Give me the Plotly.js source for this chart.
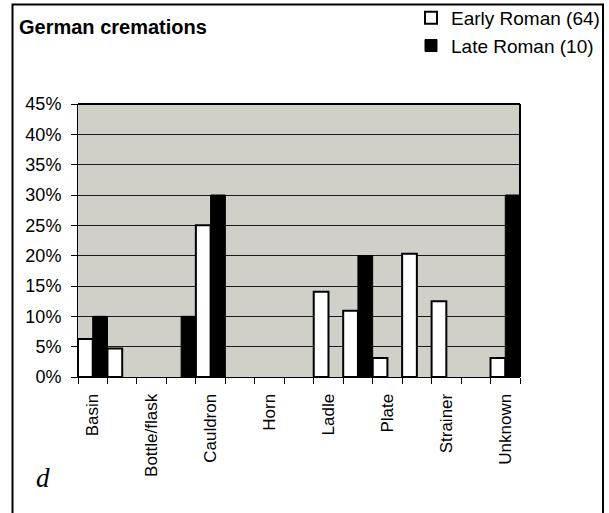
<!DOCTYPE html>
<html>
<head>
<meta charset="utf-8">
<script src="https://cdn.plot.ly/plotly-3.0.1.min.js"></script>
<style>
  html, body { margin: 0; padding: 0; background: #ffffff; }
  #chart { width: 609px; height: 513px; }
</style>
</head>
<body>
<div id="chart"></div>
<script>
// Category slots (labels shown on every other slot, as in the original)
const categories = ["Basin", "", "Bottle/flask", "", "Cauldron", "", "Horn", "", "Ladle", "", "Plate", "", "Strainer", "", "Unknown"];
// Percentages
const earlyRoman = [6.25, 4.69, 0, 0, 25, 0, 0, 0, 14.06, 10.94, 3.13, 20.31, 12.5, 0, 3.13];
const lateRoman  = [10, 0, 0, 10, 30, 0, 0, 0, 0, 20, 0, 0, 0, 0, 30];
const seriesNames = ["Early Roman (64)", "Late Roman (10)"];
const yTickValues = [0, 5, 10, 15, 20, 25, 30, 35, 40, 45];

const xPos = categories.map((c, i) => i + 1);
const labelPos = xPos.filter((p, i) => categories[i] !== "");
const labelText = categories.filter(c => c !== "");
const boundaries = [0.5].concat(xPos.map(p => p + 0.5));
const nz = arr => arr.map(v => (v === 0 ? null : v));

const FONT = "Liberation Sans, Arial, sans-serif";

const traces = [
  {
    type: "bar", name: seriesNames[0], x: xPos, y: nz(earlyRoman),
    marker: { color: "#ffffff", line: { color: "#000000", width: 2 } },
    hoverinfo: "skip"
  },
  {
    type: "bar", name: seriesNames[1], x: xPos, y: nz(lateRoman),
    marker: { color: "#000000", line: { color: "#000000", width: 1 } },
    hoverinfo: "skip"
  },
  {
    type: "scatter", x: labelPos, y: labelPos.map(() => null), xaxis: "x2",
    showlegend: false, hoverinfo: "skip"
  }
];

// Plot area geometry in pixels (for the outer frame)
const L = 78, R = 520, T = 104, B = 377;
const W = R - L, H = B - T;
const px = v => (v - L) / W;
const py = v => (B - v) / H;

const layout = {
  width: 609, height: 513,
  margin: { l: L, r: 609 - R, t: T, b: 513 - B, pad: 0, autoexpand: false },
  paper_bgcolor: "#ffffff",
  plot_bgcolor: "#d0d0c9",
  font: { family: FONT, size: 18, color: "#000000" },
  barmode: "group", bargap: 0, bargroupgap: 0,
  title: {
    text: "<b>German cremations</b>",
    font: { family: FONT, size: 20, color: "#000000" },
    xref: "container", yref: "container",
    x: 19 / 609, xanchor: "left",
    y: 1 - 27 / 513, yanchor: "middle"
  },
  showlegend: true,
  legend: {
    x: px(605), xanchor: "right", y: py(-1), yanchor: "top",
    bgcolor: "rgba(0,0,0,0)", borderwidth: 0,
    font: { family: FONT, size: 19, color: "#000000" },
    traceorder: "normal", tracegroupgap: 0
  },
  xaxis: {
    range: [0.5, 15.5], tickmode: "array", tickvals: boundaries,
    ticktext: boundaries.map(() => ""),
    ticks: "outside", ticklen: 6, tickwidth: 1, tickcolor: "#000000",
    showline: true, linecolor: "#000000", linewidth: 1,
    showgrid: false, zeroline: false, fixedrange: true
  },
  xaxis2: {
    overlaying: "x", side: "bottom", range: [0.5, 15.5],
    tickmode: "array", tickvals: labelPos, ticktext: labelText,
    tickangle: -90, ticks: "outside", ticklen: 9, tickcolor: "rgba(0,0,0,0)",
    showline: false, showgrid: false, zeroline: false,
    tickfont: { family: FONT, size: 17, color: "#000000" }, fixedrange: true
  },
  yaxis: {
    range: [0, 45], tickmode: "array", tickvals: yTickValues,
    ticktext: yTickValues.map(v => v + "%"),
    ticks: "outside", ticklen: 6, tickwidth: 1, tickcolor: "#000000",
    ticklabelstandoff: 6,
    showline: true, linecolor: "#000000", linewidth: 1,
    showgrid: true, gridcolor: "#1a1a1a", gridwidth: 1,
    zeroline: false, fixedrange: true,
    tickfont: { family: FONT, size: 18, color: "#000000" }
  },
  shapes: [
    // plot area top and right border
    { type: "line", xref: "paper", yref: "paper", x0: 0, x1: 1, y0: 1, y1: 1, line: { color: "#000000", width: 2 } },
    { type: "line", xref: "paper", yref: "paper", x0: 1, x1: 1, y0: 0, y1: 1, line: { color: "#000000", width: 2 } },
    // outer frame
    { type: "rect", xref: "paper", yref: "paper", x0: px(12.5), x1: px(603), y0: py(540), y1: py(4.5),
      line: { color: "#000000", width: 2 }, fillcolor: "rgba(0,0,0,0)" }
  ],
  annotations: [
    { text: "<i>d</i>", xref: "paper", yref: "paper", x: px(43), y: py(478),
      xanchor: "center", yanchor: "middle", showarrow: false,
      font: { family: "Liberation Serif, Times New Roman, serif", size: 27, color: "#000000" } }
  ]
};

Plotly.newPlot("chart", traces, layout, { displayModeBar: false, staticPlot: true });
</script>
</body>
</html>
